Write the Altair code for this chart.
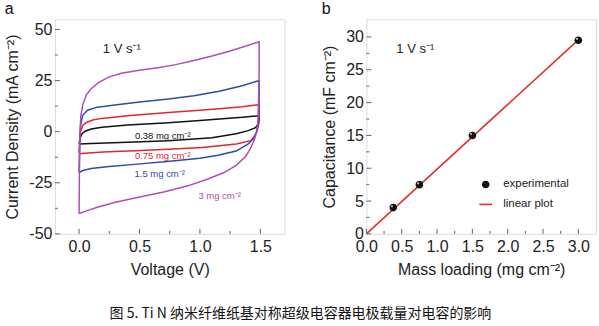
import altair as alt
import pandas as pd

# ---------------- data: panel a (CV loops) ----------------
loadings = ["0.38 mg cm⁻²", "0.75 mg cm⁻²", "1.5 mg cm⁻²", "3 mg cm⁻²"]
cv_colors = ["#111111", "#e3262b", "#2a4ea6", "#b24db3"]

v_038 = [0.0, 0.01, 0.025, 0.05, 0.1, 0.19, 0.4, 0.74, 1.0, 1.16, 1.35, 1.49,
         1.49, 1.485, 1.46, 1.4, 1.3, 1.1, 0.74, 0.4, 0.1, 0.0]
j_038 = [-6.0, -3.0, -1.0, 0.2, 1.3, 2.2, 3.3, 4.4, 5.5, 6.2, 7.0, 7.8,
         6.0, 4.0, 2.0, 0.5, -1.0, -3.0, -4.4, -5.2, -5.8, -6.0]

v_075 = [0.0, 0.005, 0.012, 0.03, 0.06, 0.12, 0.19, 0.4, 0.74, 1.0, 1.16, 1.35, 1.49,
         1.49, 1.485, 1.47, 1.45, 1.42, 1.3, 1.02, 0.74, 0.46, 0.2, 0.05, 0.0]
j_075 = [-10.5, -5.0, 0.0, 3.0, 4.5, 5.8, 6.5, 7.8, 9.4, 10.5, 11.2, 12.2, 13.2,
         8.0, 3.0, 0.0, -2.5, -4.4, -6.0, -7.8, -8.6, -9.3, -10.0, -10.6, -10.8]

v_15 = [0.0, 0.005, 0.012, 0.03, 0.07, 0.15, 0.33, 0.5, 0.74, 0.95, 1.16, 1.35, 1.49,
        1.49, 1.485, 1.47, 1.44, 1.4, 1.3, 1.15, 1.0, 0.75, 0.46, 0.25, 0.1, 0.03, 0.0]
j_15 = [-20.0, -5.0, 3.0, 8.0, 10.5, 12.0, 13.3, 14.5, 16.0, 17.6, 19.8, 22.5, 25.0,
        15.0, 5.0, 0.0, -3.5, -6.0, -9.5, -11.5, -13.0, -14.5, -16.0, -17.0, -18.0, -19.0, -20.0]

v_3 = [0.0, 0.003, 0.008, 0.015, 0.03, 0.06, 0.1, 0.16, 0.25, 0.35, 0.5, 0.65, 0.8, 0.95,
       1.1, 1.25, 1.4, 1.49,
       1.49, 1.485, 1.48, 1.47, 1.45, 1.42, 1.38, 1.3, 1.2, 1.05, 0.9, 0.7, 0.5, 0.3,
       0.15, 0.05, 0.0]
j_3 = [-40.0, -20.0, 0.0, 8.0, 13.0, 18.0, 21.0, 24.0, 26.8, 28.6, 30.0, 31.3, 32.8, 34.8,
       37.0, 39.5, 42.3, 44.0,
       30.0, 15.0, 5.0, 0.0, -4.0, -8.0, -12.0, -16.5, -20.0, -23.5, -26.5, -29.5, -32.0, -34.5,
       -37.0, -39.0, -40.0]

# ---------------- data: panel b ----------------
mass = [0.38, 0.75, 1.5, 3.0]
capacitance = [4.0, 7.5, 15.0, 29.5]
fit_mass = [0.0, 3.0]
fit_cap = [0.0, 29.55]
legend_items = ["experimental", "linear plot"]

# tick values
a_x_major = [0.0, 0.5, 1.0, 1.5]
a_x_minor = [0.25, 0.75, 1.25]
a_y_major = [-50, -25, 0, 25, 50]
a_y_minor = [-37.5, -12.5, 12.5, 37.5]
b_x_major = [0.0, 0.5, 1.0, 1.5, 2.0, 2.5, 3.0]
b_x_minor = [0.25, 0.75, 1.25, 1.75, 2.25, 2.75]
b_y_major = [0, 5, 10, 15, 20, 25, 30]
b_y_minor = [2.5, 7.5, 12.5, 17.5, 22.5, 27.5]

FONT = "Liberation Sans"
FRAME = "#666666"
W, H = 230, 215

rows = []
for name, vs, js in [(loadings[0], v_038, j_038), (loadings[1], v_075, j_075),
                     (loadings[2], v_15, j_15), (loadings[3], v_3, j_3)]:
    for i, (v, j) in enumerate(zip(vs, js)):
        rows.append({"V": v, "J": j, "loading": name, "ord": i})
cv_df = pd.DataFrame(rows)

axis_common = dict(domain=False, ticks=False, grid=False, labelFontSize=16, titleFontSize=16,
                   labelFont=FONT, titleFont=FONT, labelColor="#222222", titleColor="#222222",
                   titleFontWeight="normal", labelFlush=False, labelOverlap=False)


def make_x(field, domain, values, title):
    return alt.X(f"{field}:Q", scale=alt.Scale(domain=domain, nice=False, zero=False),
                 axis=alt.Axis(values=values, format=".1f", title=title,
                               labelPadding=5, titlePadding=7, **axis_common))


def make_y(field, domain, values, title):
    return alt.Y(f"{field}:Q", scale=alt.Scale(domain=domain, nice=False, zero=False),
                 axis=alt.Axis(values=values, labelExpr="'' + datum.value", title=title,
                               labelPadding=3, titlePadding=8, **axis_common))


def xticks(vals, field, xenc, length):
    return alt.Chart(pd.DataFrame({field: vals})).mark_rule(color=FRAME, strokeWidth=1).encode(
        x=xenc, y=alt.value(H), y2=alt.value(H - length))


def yticks(vals, field, yenc, length):
    return alt.Chart(pd.DataFrame({field: vals})).mark_rule(color=FRAME, strokeWidth=1).encode(
        y=yenc, x=alt.value(0), x2=alt.value(length))


def note(text, x, y, color="#222222", size=13, align="left"):
    return alt.Chart(alt.Data(values=[{}])).mark_text(
        text=text, font=FONT, fontSize=size, color=color, align=align, baseline="middle"
    ).encode(x=alt.value(x), y=alt.value(y))


ax = make_x("V", [-0.2, 1.7], a_x_major, "Voltage (V)")
ay = make_y("J", [-50, 55], a_y_major, "Current Density (mA cm⁻²)")

cv_lines = alt.Chart(cv_df).mark_line(strokeWidth=1.5).encode(
    x=ax, y=ay,
    color=alt.Color("loading:N", scale=alt.Scale(domain=loadings, range=cv_colors), legend=None),
    order="ord:Q",
)

panel_a = alt.layer(
    cv_lines,
    xticks(a_x_major, "V", ax, 5), xticks(a_x_minor, "V", ax, 3),
    yticks(a_y_major, "J", ay, 5), yticks(a_y_minor, "J", ay, 3),
    note("1 V s⁻¹", 48, 30),
    note(loadings[0], 108, 117, cv_colors[0], 9.5, "center"),
    note(loadings[1], 108, 137, cv_colors[1], 9.5, "center"),
    note(loadings[2], 105, 155, cv_colors[2], 9.5, "center"),
    note(loadings[3], 165, 177, cv_colors[3], 9.5, "center"),
).properties(width=W, height=H,
             title=alt.TitleParams("a", anchor="start", frame="bounds", fontSize=16,
                                   font=FONT, fontWeight="normal", offset=2, color="#111111"))

pts_df = pd.DataFrame({"mass": mass, "cap": capacitance, "series": ["experimental"] * len(mass)})
fit_df = pd.DataFrame({"mass": fit_mass, "cap": fit_cap})

circle_path = "M0,-0.6A0.6,0.6 0 1,1 0,0.6A0.6,0.6 0 1,1 0,-0.6Z"
line_path = "M-1,-0.13H1V0.13H-1Z"

bx = make_x("mass", [0, 3.25], b_x_major, "Mass loading (mg cm⁻²)")
by = make_y("cap", [0, 32.7], b_y_major, "Capacitance (mF cm⁻²)")

fit_line = alt.Chart(fit_df).mark_line(color="#e0302f", strokeWidth=1.6).encode(x=bx, y=by)

leg = alt.Legend(title=None, orient="none", legendX=112, legendY=158,
                 symbolSize=160, labelFont=FONT, labelFontSize=11.5,
                 labelColor="#222222", labelOffset=10, rowPadding=5, symbolOpacity=1)

points = alt.Chart(pts_df).mark_point(filled=True, size=160, opacity=1).encode(
    x=bx, y=by,
    color=alt.Color("series:N", scale=alt.Scale(domain=legend_items, range=["#111111", "#e0302f"]),
                    legend=leg),
    shape=alt.Shape("series:N", scale=alt.Scale(domain=legend_items, range=[circle_path, line_path]),
                    legend=leg),
)
highlight = alt.Chart(pts_df).mark_point(filled=True, size=5, color="#bbbbbb", opacity=1,
                                         xOffset=-1.3, yOffset=-1.3).encode(x=bx, y=by)

panel_b = alt.layer(
    fit_line, points, highlight,
    xticks(b_x_major, "mass", bx, 5), xticks(b_x_minor, "mass", bx, 3),
    yticks(b_y_major, "cap", by, 5), yticks(b_y_minor, "cap", by, 3),
    note("1 V s⁻¹", 30, 30),
).properties(width=W, height=H,
             title=alt.TitleParams("b", anchor="start", frame="bounds", fontSize=16,
                                   font=FONT, fontWeight="normal", offset=2, color="#111111"))

chart = alt.hconcat(panel_a, panel_b, spacing=35).resolve_scale(
    color="independent", shape="independent"
).resolve_legend(color="independent", shape="independent").properties(
    title=alt.TitleParams("图 5. Ti N 纳米纤维纸基对称超级电容器电极载量对电容的影响",
                          orient="bottom", anchor="middle", font="Noto Sans CJK SC",
                          fontSize=14, fontWeight="normal", color="#111111", offset=29),
    padding={"left": 4, "top": 0, "right": 2, "bottom": 0},
).configure_view(stroke=FRAME, strokeWidth=1).configure(background="white")

chart.save("out.html", embed_options={"renderer": "svg", "actions": False})
